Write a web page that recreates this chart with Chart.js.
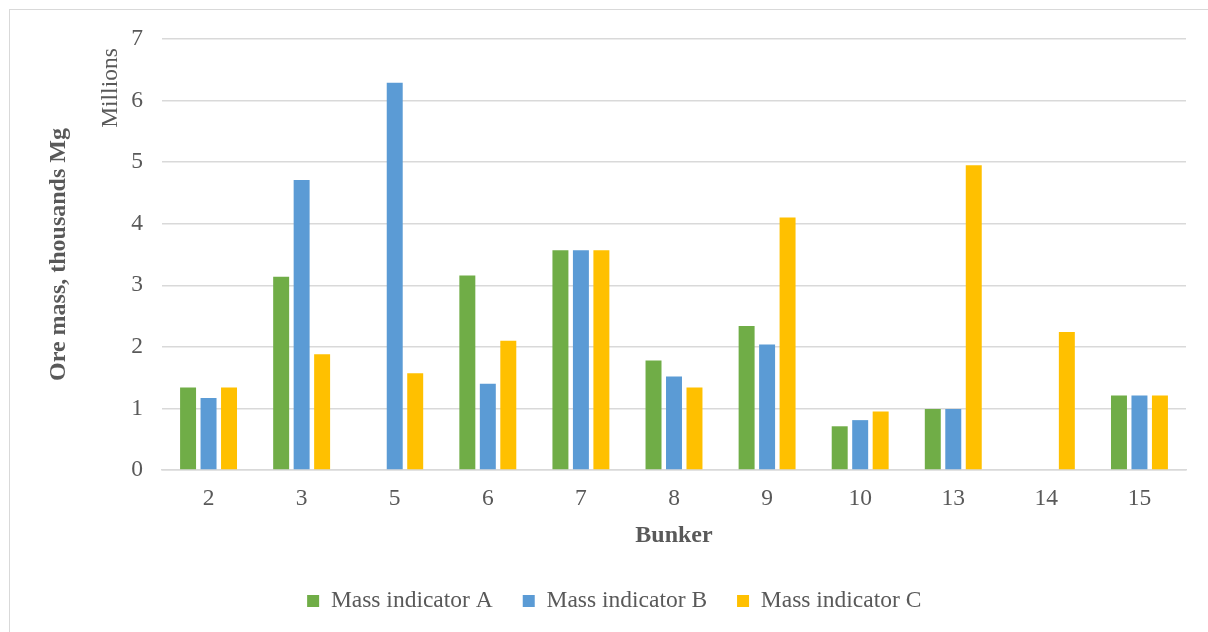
<!DOCTYPE html>
<html>
<head>
<meta charset="utf-8">
<title>Ore mass by bunker</title>
<script src="https://cdn.jsdelivr.net/npm/chart.js@4.4.1/dist/chart.umd.min.js"></script>
<style>
  html, body { margin: 0; padding: 0; background: #ffffff; }
  #wrap { position: relative; width: 1208px; height: 632px; overflow: hidden; }
  #frame {
    position: absolute; left: 9px; top: 9px; width: 1300px; height: 700px;
    border-left: 1px solid #d9d9d9; border-top: 1px solid #d9d9d9; box-sizing: border-box;
  }
  #chart { position: absolute; left: 0; top: 0; }
</style>
</head>
<body>
<div id="wrap">
  <div id="frame"></div>
  <canvas id="chart" width="1208" height="632"></canvas>
</div>
<script>
// Bunker numbers and measured ore mass (millions) per indicator
const bunkers = ['2', '3', '5', '6', '7', '8', '9', '10', '13', '14', '15'];
const massA = [1.34, 3.14, 0, 3.16, 3.57, 1.78, 2.34, 0.71, 0.99, 0, 1.21];
const massB = [1.17, 4.71, 6.29, 1.40, 3.57, 1.52, 2.04, 0.81, 0.99, 0, 1.21];
const massC = [1.34, 1.88, 1.57, 2.10, 3.57, 1.34, 4.10, 0.95, 4.95, 2.24, 1.21];
const seriesNames = ['Mass indicator A', 'Mass indicator B', 'Mass indicator C'];
const yTicks = [0, 1, 2, 3, 4, 5, 6, 7];

const SERIF = "'Liberation Serif', 'Times New Roman', serif";
const TEXT = '#595959';
const GRID = '#d9d9d9';

// Small caption above the y axis ("Millions")
const unitLabel = {
  id: 'unitLabel',
  afterDraw(chart) {
    const ctx = chart.ctx;
    ctx.save();
    ctx.translate(111, 88);
    ctx.rotate(-Math.PI / 2);
    ctx.font = '23.5px ' + SERIF;
    ctx.fillStyle = TEXT;
    ctx.textAlign = 'center';
    ctx.textBaseline = 'middle';
    ctx.fillText('Millions', 0, 0);
    ctx.restore();
  }
};

const colors = ['#70ad47', '#5b9bd5', '#ffc000'];
const values = [massA, massB, massC];

new Chart(document.getElementById('chart'), {
  type: 'bar',
  data: {
    labels: bunkers,
    datasets: values.map((v, i) => ({
      label: seriesNames[i],
      data: v,
      backgroundColor: colors[i],
      borderWidth: 0,
      categoryPercentage: 0.66,
      barPercentage: 0.78
    }))
  },
  options: {
    responsive: false,
    animation: false,
    devicePixelRatio: 1,
    layout: { padding: { left: 42.5, right: 22, top: 39, bottom: 9.25 } },
    plugins: {
      tooltip: { enabled: false },
      legend: {
        position: 'bottom',
        labels: {
          boxWidth: 12,
          boxHeight: 12,
          padding: 30,
          color: TEXT,
          font: { family: SERIF, size: 23.5 }
        }
      }
    },
    scales: {
      x: {
        grid: { display: false, drawTicks: false },
        border: { display: true, color: GRID, width: 1.5 },
        ticks: { color: TEXT, padding: 14.4, font: { family: SERIF, size: 23.5 } },
        title: {
          display: true,
          text: 'Bunker',
          color: TEXT,
          font: { family: SERIF, size: 24, weight: 'bold' },
          padding: { top: 0, bottom: 9.5 }
        },
        afterFit(scale) { scale.height = 89.25; }
      },
      y: {
        min: yTicks[0],
        max: yTicks[yTicks.length - 1],
        afterBuildTicks(scale) { scale.ticks = yTicks.map(v => ({ value: v })); },
        grid: { color: GRID, lineWidth: 1.5, drawTicks: false },
        border: { display: false },
        ticks: { color: TEXT, padding: 19, font: { family: SERIF, size: 23.5 } },
        title: {
          display: true,
          text: 'Ore mass, thousands Mg',
          color: TEXT,
          font: { family: SERIF, size: 24, weight: 'bold' },
          padding: { top: 2.1, bottom: 0 }
        },
        afterFit(scale) { scale.width = 119.5; }
      }
    }
  },
  plugins: [unitLabel]
});
</script>
</body>
</html>
